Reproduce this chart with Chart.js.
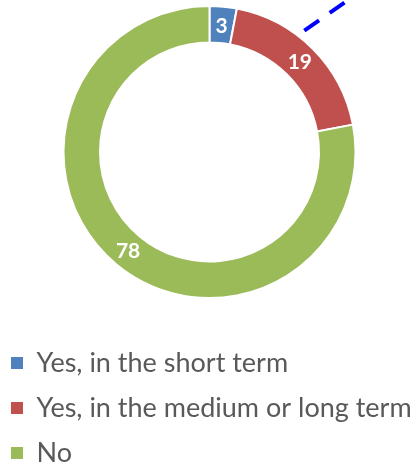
<!DOCTYPE html>
<html>
<head>
<meta charset="utf-8">
<script src="https://cdn.jsdelivr.net/npm/chart.js@4.4.1/dist/chart.umd.min.js"></script>
<style>
  body { margin: 0; background: #fff; }
  #wrap { width: 419px; height: 464px; }
</style>
</head>
<body>
<div id="wrap"><canvas id="donutChart"></canvas></div>
<script>
const categories = ["Yes, in the short term", "Yes, in the medium or long term", "No"];
const values = [3, 19, 78];
const colors = ["#4F81BD", "#C0504D", "#9BBB59"];

// white value labels in the middle of each slice
const sliceLabels = {
  id: "sliceLabels",
  afterDatasetsDraw(chart) {
    const ctx = chart.ctx;
    const meta = chart.getDatasetMeta(0);
    ctx.save();
    ctx.fillStyle = "#fff";
    ctx.font = "bold 21px Lato";
    ctx.textAlign = "center";
    ctx.textBaseline = "middle";
    meta.data.forEach((arc, i) => {
      const p = arc.tooltipPosition();
      ctx.fillText(values[i], p.x, p.y + 1);
    });
    ctx.restore();
  }
};

// blue dashed line leaving the top right of the ring
const leaderLine = {
  id: "leaderLine",
  afterDraw(chart) {
    const arc = chart.getDatasetMeta(0).data[1];
    const angle = 38 * Math.PI / 180;
    const r = arc.outerRadius + 8;
    const x0 = arc.x + r * Math.sin(angle);
    const y0 = arc.y - r * Math.cos(angle);
    const slope = Math.tan(35 * Math.PI / 180);
    const ctx = chart.ctx;
    ctx.save();
    ctx.strokeStyle = "#0000FF";
    ctx.lineWidth = 4;
    ctx.setLineDash([18, 13]);
    ctx.beginPath();
    ctx.moveTo(x0, y0);
    ctx.lineTo(x0 + (y0 + 10) / slope, -10);
    ctx.stroke();
    ctx.restore();
  }
};

const ctx = document.getElementById("donutChart").getContext("2d");
new Chart(ctx, {
  type: "doughnut",
  data: {
    labels: categories,
    datasets: [{
      data: values,
      backgroundColor: colors,
      borderColor: "#fff",
      borderWidth: 2,
      hoverOffset: 0
    }]
  },
  options: {
    responsive: true,
    maintainAspectRatio: false,
    animation: false,
    events: [],
    radius: 146,
    cutout: "75%",
    layout: { padding: { top: 0, bottom: -12.5, left: -7, right: -7 } },
    plugins: {
      tooltip: { enabled: false },
      legend: {
        position: "bottom",
        align: "start",
        // empty title only used as a spacer above the legend rows
        title: { display: true, text: "", font: { size: 12, lineHeight: 1 }, padding: { top: 0, bottom: 15.5 } },
        labels: {
          boxWidth: 12,
          boxHeight: 12,
          padding: 18,
          color: "#595959",
          font: { family: "Lato", size: 27 },
          generateLabels(chart) {
            const base = Chart.overrides.doughnut.plugins.legend.labels.generateLabels(chart);
            return base.map(l => ({ ...l, lineWidth: 0 }));
          }
        }
      }
    }
  },
  plugins: [sliceLabels, leaderLine]
});
</script>
</body>
</html>
